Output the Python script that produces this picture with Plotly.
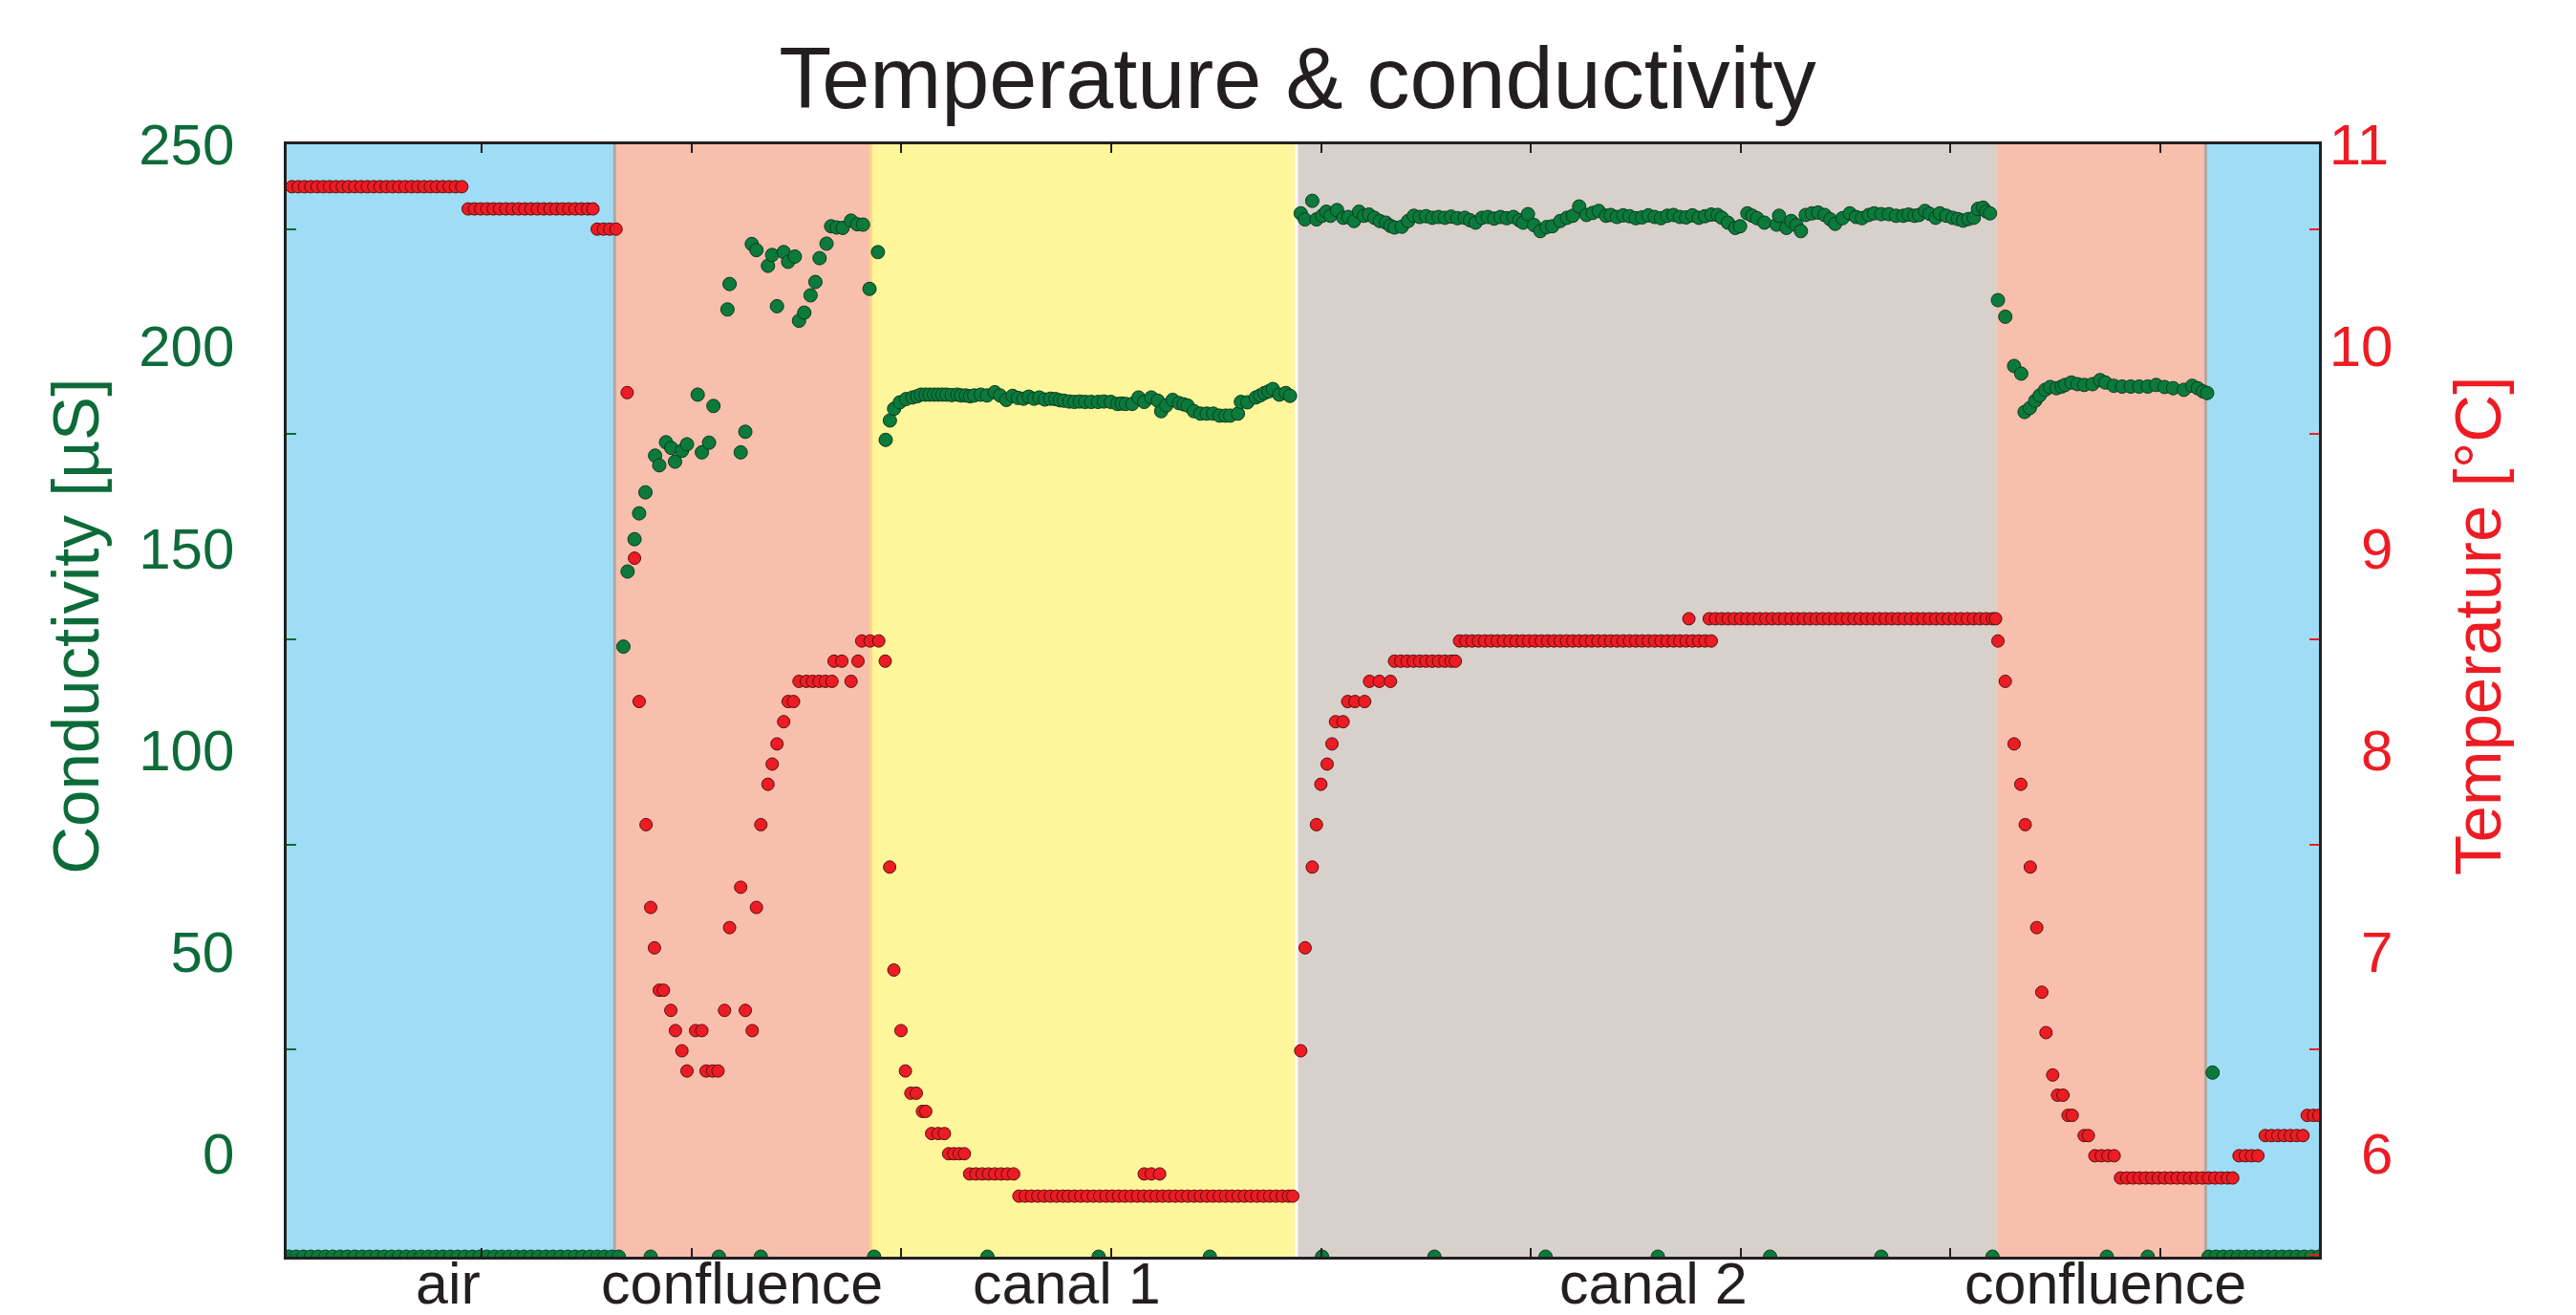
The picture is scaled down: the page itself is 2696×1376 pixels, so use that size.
import plotly.graph_objects as go

# ---------------- data ----------------
# time axis in minutes (ticks every 10 min, unlabeled)
region_names = ["air", "confluence", "canal 1", "canal 2", "confluence", "air"]
region_start = [0.7, 16.33, 28.55, 48.83, 82.21, 92.16]
region_end = [16.33, 28.55, 48.83, 82.21, 92.16, 97.56]
label_names = ["air", "confluence", "canal 1", "canal 2", "confluence"]
label_time = [8.4, 22.4, 37.9, 65.85, 87.4]

cond_tick_vals = [0, 50, 100, 150, 200, 250]
temp_tick_vals = [6, 7, 8, 9, 10, 11]
temp_tick_text = ["\u20076", "\u20077", "\u20078", "\u20079", "10", "11"]

# temperature readings (time, °C)
temp_air_start = [
    (0.95, 10.79), (1.25, 10.79), (1.55, 10.79), (1.85, 10.79), (2.15, 10.79), (2.45, 10.79),
    (2.75, 10.79), (3.05, 10.79), (3.35, 10.79), (3.65, 10.79), (3.95, 10.79), (4.25, 10.79),
    (4.55, 10.79), (4.85, 10.79), (5.15, 10.79), (5.45, 10.79), (5.75, 10.79), (6.05, 10.79),
    (6.35, 10.79), (6.65, 10.79), (6.95, 10.79), (7.25, 10.79), (7.55, 10.79), (7.85, 10.79),
    (8.15, 10.79), (8.45, 10.79), (8.75, 10.79), (9.05, 10.79),
    (9.35, 10.68), (9.65, 10.68), (9.95, 10.68), (10.25, 10.68), (10.55, 10.68), (10.85, 10.68),
    (11.15, 10.68), (11.45, 10.68), (11.75, 10.68), (12.05, 10.68), (12.35, 10.68), (12.65, 10.68),
    (12.95, 10.68), (13.25, 10.68), (13.55, 10.68), (13.85, 10.68), (14.15, 10.68), (14.45, 10.68),
    (14.75, 10.68), (15.05, 10.68), (15.3, 10.68),
    (15.5, 10.58), (15.8, 10.58), (16.1, 10.58), (16.4, 10.58),
]
temp_confluence_1 = [
    (16.93, 9.77), (17.28, 8.95), (17.50, 8.24), (17.83, 7.63), (18.05, 7.22), (18.23, 7.02),
    (18.46, 6.81), (18.66, 6.81), (19.01, 6.71), (19.23, 6.61), (19.54, 6.51), (19.78, 6.41),
    (20.19, 6.61), (20.49, 6.61), (20.69, 6.41), (21.0, 6.41), (21.26, 6.41), (21.57, 6.71),
    (21.81, 7.12), (22.34, 7.32), (22.56, 6.71), (22.89, 6.61), (23.09, 7.22), (23.30, 7.63),
    (23.64, 7.83), (23.84, 7.93), (24.07, 8.03), (24.39, 8.14), (24.60, 8.24), (24.86, 8.24),
    (25.12, 8.34), (25.47, 8.34), (25.77, 8.34), (26.08, 8.34), (26.38, 8.34), (26.69, 8.34),
    (26.79, 8.44), (27.16, 8.44), (27.60, 8.34), (27.93, 8.44), (28.11, 8.54), (28.51, 8.54),
    (28.92, 8.54), (29.23, 8.44),
]
temp_canal_1 = [
    (29.44, 7.42), (29.64, 6.91), (29.98, 6.61), (30.19, 6.41), (30.45, 6.30), (30.71, 6.30),
    (31.0, 6.21), (31.16, 6.21), (31.44, 6.10), (31.75, 6.10), (32.05, 6.10),
    (32.25, 6.0), (32.5, 6.0), (32.75, 6.0), (33.0, 6.0),
    (33.25, 5.9), (33.55, 5.9), (33.85, 5.9), (34.15, 5.9), (34.45, 5.9), (34.75, 5.9),
    (35.05, 5.9), (35.35, 5.9),
    (35.6, 5.79), (35.9, 5.79), (36.2, 5.79), (36.5, 5.79), (36.8, 5.79), (37.1, 5.79),
    (37.4, 5.79), (37.7, 5.79), (37.95, 5.79), (38.25, 5.79), (38.55, 5.79), (38.85, 5.79),
    (39.15, 5.79), (39.45, 5.79), (39.75, 5.79), (40.05, 5.79), (40.35, 5.79), (40.65, 5.79),
    (40.95, 5.79), (41.25, 5.79), (41.55, 5.79), (41.85, 5.79), (42.15, 5.79), (42.45, 5.79),
    (42.75, 5.79), (43.05, 5.79), (43.35, 5.79), (43.65, 5.79), (43.95, 5.79), (44.25, 5.79),
    (44.55, 5.79), (44.85, 5.79), (45.15, 5.79), (45.45, 5.79), (45.75, 5.79), (46.05, 5.79),
    (46.35, 5.79), (46.65, 5.79), (46.95, 5.79), (47.25, 5.79), (47.55, 5.79), (47.85, 5.79),
    (48.15, 5.79), (48.45, 5.79), (48.65, 5.79),
    (41.57, 5.9), (41.91, 5.9), (42.31, 5.9),
]
temp_canal_2 = [
    (49.03, 6.51), (49.24, 7.02), (49.58, 7.42), (49.78, 7.63), (49.99, 7.83), (50.29, 7.93),
    (50.52, 8.03), (50.69, 8.14), (51.05, 8.14), (51.27, 8.24), (51.62, 8.24), (52.08, 8.24),
    (52.31, 8.34), (52.78, 8.34), (53.31, 8.34),
    (53.5, 8.44), (53.8, 8.44), (54.1, 8.44), (54.4, 8.44), (54.7, 8.44), (55.0, 8.44),
    (55.3, 8.44), (55.6, 8.44), (55.9, 8.44), (56.2, 8.44), (56.4, 8.44),
    (56.6, 8.54), (56.9, 8.54), (57.2, 8.54), (57.5, 8.54), (57.8, 8.54), (58.1, 8.54),
    (58.4, 8.54), (58.7, 8.54), (59.0, 8.54), (59.3, 8.54), (59.6, 8.54), (59.9, 8.54),
    (60.2, 8.54), (60.5, 8.54), (60.8, 8.54), (61.1, 8.54), (61.4, 8.54), (61.7, 8.54),
    (62.0, 8.54), (62.3, 8.54), (62.6, 8.54), (62.9, 8.54), (63.2, 8.54), (63.5, 8.54),
    (63.8, 8.54), (64.1, 8.54), (64.4, 8.54), (64.7, 8.54), (65.0, 8.54), (65.3, 8.54),
    (65.6, 8.54), (65.9, 8.54), (66.2, 8.54), (66.5, 8.54), (66.8, 8.54), (67.1, 8.54),
    (67.4, 8.54), (67.7, 8.54), (68.0, 8.54), (68.3, 8.54), (68.6, 8.54),
    (67.53, 8.65),
    (68.5, 8.65), (68.8, 8.65), (69.1, 8.65), (69.4, 8.65), (69.7, 8.65), (70.0, 8.65),
    (70.3, 8.65), (70.6, 8.65), (70.9, 8.65), (71.2, 8.65), (71.5, 8.65), (71.8, 8.65),
    (72.1, 8.65), (72.4, 8.65), (72.7, 8.65), (73.0, 8.65), (73.3, 8.65), (73.6, 8.65),
    (73.9, 8.65), (74.2, 8.65), (74.5, 8.65), (74.8, 8.65), (75.1, 8.65), (75.4, 8.65),
    (75.7, 8.65), (76.0, 8.65), (76.3, 8.65), (76.6, 8.65), (76.9, 8.65), (77.2, 8.65),
    (77.5, 8.65), (77.8, 8.65), (78.1, 8.65), (78.4, 8.65), (78.7, 8.65), (79.0, 8.65),
    (79.3, 8.65), (79.6, 8.65), (79.9, 8.65), (80.2, 8.65), (80.5, 8.65), (80.8, 8.65),
    (81.1, 8.65), (81.4, 8.65), (81.7, 8.65), (82.0, 8.65), (82.15, 8.65),
]
temp_confluence_2 = [
    (82.26, 8.54), (82.61, 8.34), (83.03, 8.03), (83.35, 7.83), (83.56, 7.63), (83.80, 7.42),
    (84.11, 7.12), (84.35, 6.80), (84.55, 6.60), (84.87, 6.39), (85.1, 6.29), (85.36, 6.29),
    (85.6, 6.19), (85.8, 6.19), (86.37, 6.09), (86.57, 6.09),
    (86.88, 5.99), (87.19, 5.99), (87.5, 5.99), (87.8, 5.99),
    (88.1, 5.88), (88.4, 5.88), (88.7, 5.88), (89.0, 5.88), (89.3, 5.88), (89.6, 5.88),
    (89.9, 5.88), (90.2, 5.88), (90.5, 5.88), (90.8, 5.88), (91.1, 5.88), (91.4, 5.88),
    (91.7, 5.88), (92.0, 5.88),
]
temp_air_end = [
    (92.3, 5.88), (92.6, 5.88), (92.9, 5.88), (93.2, 5.88), (93.45, 5.88),
    (93.75, 5.99), (94.05, 5.99), (94.35, 5.99), (94.65, 5.99),
    (95.0, 6.09), (95.3, 6.09), (95.6, 6.09), (95.9, 6.09), (96.2, 6.09), (96.5, 6.09), (96.8, 6.09),
    (97.0, 6.19), (97.3, 6.19), (97.55, 6.19),
]

# conductivity readings (time, µS); -25.5 = no reading (sensor out of water)
cond_air_start = [
    (0.8, -25.5), (1.15, -25.5), (1.5, -25.5), (1.85, -25.5), (2.2, -25.5), (2.55, -25.5),
    (2.9, -25.5), (3.25, -25.5), (3.6, -25.5), (3.95, -25.5), (4.3, -25.5), (4.65, -25.5),
    (5.0, -25.5), (5.35, -25.5), (5.7, -25.5), (6.05, -25.5), (6.4, -25.5), (6.75, -25.5),
    (7.1, -25.5), (7.45, -25.5), (7.8, -25.5), (8.15, -25.5), (8.5, -25.5), (8.85, -25.5),
    (9.2, -25.5), (9.55, -25.5), (9.9, -25.5), (10.25, -25.5), (10.6, -25.5), (10.95, -25.5),
    (11.3, -25.5), (11.65, -25.5), (12.0, -25.5), (12.35, -25.5), (12.7, -25.5), (13.05, -25.5),
    (13.4, -25.5), (13.75, -25.5), (14.1, -25.5), (14.45, -25.5), (14.8, -25.5), (15.15, -25.5),
    (15.5, -25.5), (15.85, -25.5), (16.2, -25.5),
]
cond_confluence_1 = [
    (16.53, -25.5), (18.05, -25.5), (21.3, -25.5), (23.3, -25.5),
    (16.75, 125.6), (16.95, 144.2), (17.28, 152.2), (17.50, 158.6), (17.80, 163.8),
    (18.26, 172.9), (18.46, 170.5), (18.78, 176.2), (19.03, 174.8), (19.21, 171.4),
    (19.54, 174.1), (19.78, 175.7), (20.29, 188.0), (20.49, 173.7), (20.83, 176.1),
    (21.04, 185.2), (21.71, 209.1), (21.81, 215.4), (22.34, 173.7), (22.56, 178.8),
    (22.87, 225.3), (23.09, 223.8), (23.64, 219.9), (23.84, 222.6), (24.07, 209.9),
    (24.39, 223.3), (24.60, 220.9), (24.92, 222.2), (25.12, 206.3), (25.37, 208.3),
    (25.67, 212.6), (25.90, 215.9), (26.10, 221.8), (26.43, 225.4), (26.65, 229.7),
    (26.91, 229.4), (27.20, 229.3), (27.60, 231.1), (27.89, 230.2), (28.17, 230.1),
    (28.48, 214.2), (28.88, 223.3),
]
cond_canal_1 = [
    (28.7, -25.5), (34.1, -25.5), (39.4, -25.5), (44.7, -25.5),
    (29.25, 176.8), (29.45, 181.6), (29.65, 184.5), (29.92, 186.1), (30.22, 186.9),
    (30.53, 187.3), (30.75, 187.6), (30.93, 188.0), (31.15, 188.0), (31.34, 188.0),
    (31.55, 188.0), (31.75, 188.0), (31.95, 188.0), (32.15, 188.0), (32.4, 187.9),
    (32.66, 188.0), (32.85, 187.8), (33.07, 187.8), (33.27, 187.6), (33.47, 187.8),
    (33.78, 188.0), (34.08, 187.8), (34.45, 188.6), (34.7, 187.8), (35.0, 186.7),
    (35.3, 187.7), (35.55, 187.2), (35.82, 187.0), (36.07, 187.5), (36.32, 187.0),
    (36.57, 187.3), (36.83, 186.8), (37.1, 187.0), (37.34, 186.9), (37.55, 186.6),
    (37.75, 186.5), (38.0, 186.3), (38.25, 186.2), (38.5, 186.3), (38.76, 186.2),
    (39.05, 186.2), (39.37, 186.2), (39.65, 186.3), (39.98, 186.2), (40.29, 185.7),
    (40.5, 185.8), (40.69, 185.7), (41.0, 185.7), (41.3, 187.3), (41.57, 186.2),
    (41.91, 187.3), (42.22, 186.5), (42.38, 183.9), (42.62, 185.3), (42.93, 186.7),
    (43.23, 185.9), (43.45, 185.6), (43.64, 185.3), (43.94, 183.9), (44.25, 183.3),
    (44.55, 183.3), (44.86, 183.3), (45.16, 182.8), (45.45, 182.8), (45.67, 182.8),
    (46.04, 183.3), (46.18, 186.2), (46.49, 186.1), (46.89, 187.3), (47.1, 187.8),
    (47.3, 188.4), (47.5, 188.8), (47.7, 189.4), (48.01, 188.0), (48.32, 188.4),
    (48.52, 187.7),
]
cond_canal_2 = [
    (50.05, -25.5), (55.4, -25.5), (60.7, -25.5), (66.05, -25.5), (71.4, -25.5),
    (76.7, -25.5), (82.0, -25.5),
    (49.03, 232.9), (49.23, 231.4), (49.58, 236.0), (49.78, 231.4), (50.05, 232.3),
    (50.25, 233.3), (50.45, 232.3), (50.76, 233.7), (51.06, 231.8), (51.3, 232.0),
    (51.57, 231.0), (51.81, 233.3), (52.05, 232.3), (52.28, 232.6), (52.54, 231.8),
    (52.8, 231.0), (53.09, 230.6), (53.3, 229.8), (53.5, 229.4), (53.85, 229.6),
    (54.15, 231.0), (54.42, 232.3), (54.7, 232.0), (55.0, 232.2), (55.3, 231.8),
    (55.6, 232.0), (55.9, 231.8), (56.2, 232.1), (56.5, 231.7), (56.85, 231.8),
    (57.1, 231.2), (57.36, 230.6), (57.67, 231.8), (57.95, 232.0), (58.25, 231.6),
    (58.55, 232.0), (58.85, 231.7), (59.17, 232.0), (59.45, 231.2), (59.63, 230.6),
    (59.86, 232.7), (60.15, 230.0), (60.45, 228.5), (60.75, 229.5), (61.02, 229.7),
    (61.4, 231.0), (61.72, 231.8), (62.0, 232.3), (62.3, 234.6), (62.65, 232.5),
    (62.95, 233.0), (63.23, 233.5), (63.58, 232.3), (63.81, 232.5), (64.1, 232.0),
    (64.4, 232.4), (64.7, 232.2), (65.0, 231.7), (65.3, 231.9), (65.6, 232.4),
    (65.9, 232.0), (66.2, 231.7), (66.5, 232.3), (66.8, 232.5), (67.1, 232.0),
    (67.4, 231.9), (67.7, 232.4), (68.0, 231.8), (68.3, 232.2), (68.6, 232.6),
    (68.9, 232.5), (69.1, 231.8), (69.39, 230.6), (69.74, 229.3), (69.97, 229.7),
    (70.32, 232.9), (70.55, 232.3), (70.78, 231.7), (71.13, 230.6), (71.71, 230.1),
    (71.83, 232.3), (72.18, 229.3), (72.41, 231.0), (72.65, 230.0), (72.87, 228.5),
    (73.1, 232.5), (73.4, 232.9), (73.69, 233.1), (74.0, 232.5), (74.27, 231.4),
    (74.5, 230.3), (74.85, 231.7), (75.2, 232.9), (75.5, 232.0), (75.78, 231.7),
    (76.1, 232.5), (76.36, 232.9), (76.7, 232.7), (77.06, 232.7), (77.4, 232.3),
    (77.75, 232.3), (78.0, 232.6), (78.28, 232.3), (78.5, 232.5), (78.78, 233.5),
    (79.0, 232.8), (79.29, 231.8), (79.49, 232.9), (79.8, 232.3), (80.1, 231.8),
    (80.35, 231.5), (80.6, 231.1), (80.85, 231.5), (81.11, 231.8), (81.31, 234.0),
    (81.55, 234.3), (81.7, 233.4), (81.88, 232.9),
]
cond_confluence_2 = [
    (87.45, -25.5), (89.4, -25.5),
    (82.26, 211.4), (82.61, 207.3), (83.03, 195.1), (83.37, 193.2), (83.53, 183.7),
    (83.78, 184.7), (84.04, 186.5), (84.25, 187.8), (84.51, 189.2), (84.75, 189.9),
    (85.05, 189.6), (85.3, 190.0), (85.46, 190.4), (85.76, 191.0), (86.05, 190.6),
    (86.37, 190.4), (86.77, 190.6), (87.13, 191.6), (87.38, 191.0), (87.78, 190.2),
    (88.18, 190.0), (88.59, 190.0), (88.99, 190.0), (89.4, 190.0), (89.8, 190.4),
    (90.2, 189.9), (90.61, 189.6), (91.12, 189.2), (91.52, 190.2), (91.78, 189.6),
    (92.03, 188.8), (92.23, 188.4),
]
cond_air_end = [
    (92.49, 20.1),
    (92.3, -25.5), (92.65, -25.5), (93.0, -25.5), (93.35, -25.5), (93.7, -25.5),
    (94.05, -25.5), (94.4, -25.5), (94.75, -25.5), (95.1, -25.5), (95.45, -25.5),
    (95.8, -25.5), (96.15, -25.5), (96.5, -25.5), (96.85, -25.5), (97.2, -25.5), (97.55, -25.5),
]

# ---------------- assemble ----------------
temp_points = (temp_air_start + temp_confluence_1 + temp_canal_1 + temp_canal_2
               + temp_confluence_2 + temp_air_end)
cond_points = (cond_air_start + cond_confluence_1 + cond_canal_1 + cond_canal_2
               + cond_confluence_2 + cond_air_end)
temp_time = [p[0] for p in temp_points]
temp_value = [p[1] for p in temp_points]
cond_time = [p[0] for p in cond_points]
cond_value = [p[1] for p in cond_points]

# ---------------- styling ----------------
FONT = "Liberation Sans, Arial, Helvetica, sans-serif"
GREEN_TXT = "#0D6B3A"
GREEN_PT = "#0B7A3B"
RED_TXT = "#ED1C24"
RED_PT = "#EC1C24"
INK = "#231F20"
region_colors = ["#9EDDF5", "#F8BFAC", "#FFF69B", "#D8D0CB", "#F8BFAC", "#9EDDF5"]
boundary_colors = {16.33: "#B0A7A3", 28.55: "#FFD684", 48.83: "#FFFFFF", 92.16: "#B0A7A3"}

fig = go.Figure()
fig.add_trace(go.Scatter(
    x=cond_time, y=cond_value, mode="markers", name="Conductivity", yaxis="y",
    marker=dict(size=14, color=GREEN_PT, line=dict(color="#0A3B1F", width=1)),
    showlegend=False, cliponaxis=True,
))
fig.add_trace(go.Scatter(
    x=temp_time, y=temp_value, mode="markers", name="Temperature", yaxis="y2",
    marker=dict(size=13, color=RED_PT, line=dict(color="#5A0E0E", width=1)),
    showlegend=False, cliponaxis=True,
))

shapes = []
for x0, x1, col in zip(region_start, region_end, region_colors):
    shapes.append(dict(type="rect", xref="x", yref="paper", x0=x0, x1=x1, y0=0, y1=1,
                       fillcolor=col, line=dict(width=0), layer="below"))
for xb, col in boundary_colors.items():
    shapes.append(dict(type="line", xref="x", yref="paper", x0=xb, x1=xb, y0=0, y1=1,
                       line=dict(color=col, width=3), layer="below"))

annotations = []
for name, t in zip(label_names, label_time):
    annotations.append(dict(x=t, y=-0.024, xref="x", yref="paper", text=name, showarrow=False,
                            xanchor="center", yanchor="middle",
                            font=dict(family=FONT, size=61, color=INK)))
# axis titles (placed slightly above the axis centre, as in the original)
annotations.append(dict(x=-0.104, y=0.567, xref="paper", yref="paper",
                        text="Conductivity [µS]", textangle=-90, showarrow=False,
                        xanchor="center", yanchor="middle",
                        font=dict(family=FONT, size=69, color=GREEN_TXT)))
annotations.append(dict(x=1.078, y=0.567, xref="paper", yref="paper",
                        text="Temperature [°C]", textangle=-90, showarrow=False,
                        xanchor="center", yanchor="middle",
                        font=dict(family=FONT, size=69, color=RED_TXT)))

# the page body adds an 8px margin, so the figure is sized/offset to compensate
fig.update_layout(
    width=2680, height=1360, autosize=False,
    margin=dict(l=292, r=261, t=143, b=53),
    paper_bgcolor="white", plot_bgcolor="white",
    title=dict(text="Temperature &amp; conductivity", x=0.5037, y=0.9463, xanchor="center",
               yanchor="middle", font=dict(family=FONT, size=90, color=INK)),
    shapes=shapes, annotations=annotations,
    xaxis=dict(range=[0.7, 97.56], showgrid=False, zeroline=False, showline=True,
               linecolor=INK, linewidth=2.5, mirror="ticks", ticks="inside", ticklen=9,
               tickwidth=2, tickcolor=INK, tickvals=[10, 20, 30, 40, 50, 60, 70, 80, 90],
               showticklabels=False),
    yaxis=dict(range=[-25.5, 250], showgrid=False, zeroline=False, showline=True,
               linecolor=INK, linewidth=2.5, ticks="", tickvals=cond_tick_vals,
               tickfont=dict(family=FONT, size=60, color=GREEN_TXT), ticklabelstandoff=40,
               minor=dict(ticks="inside", tick0=25.8, dtick=50.8, ticklen=10, tickwidth=2,
                          tickcolor=GREEN_TXT)),
    yaxis2=dict(range=[5.49, 11.0], overlaying="y", side="right", showgrid=False,
                zeroline=False, showline=True, linecolor=INK, linewidth=2.5, ticks="",
                tickvals=temp_tick_vals, ticktext=temp_tick_text,
                tickfont=dict(family=FONT, size=60, color=RED_TXT), ticklabelstandoff=-4,
                minor=dict(ticks="inside", tick0=6.516, dtick=1.016, ticklen=10, tickwidth=2,
                           tickcolor=RED_TXT)),
)

fig.write_html("out.html")
